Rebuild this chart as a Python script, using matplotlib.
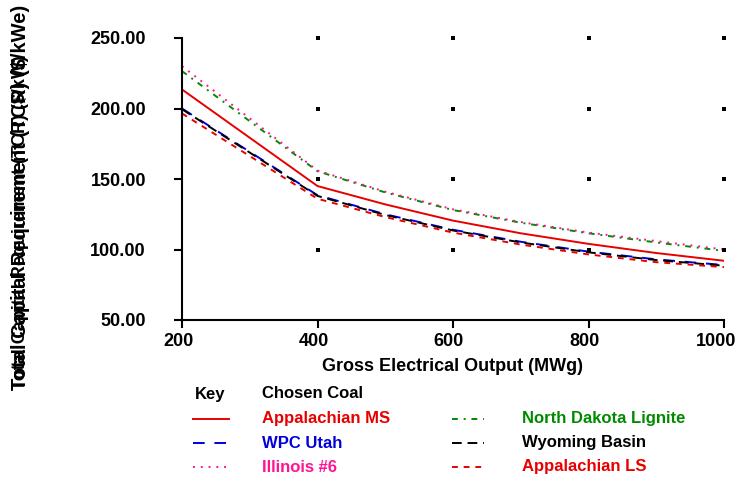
import matplotlib
matplotlib.use("Agg")
import matplotlib.pyplot as plt
from matplotlib.lines import Line2D
import matplotlib.transforms as mtransforms
import numpy as np

plt.rcParams['font.family'] = ['Liberation Sans', 'DejaVu Sans']
plt.rcParams['font.weight'] = 'bold'

mwg = [200, 400, 500, 600, 700, 800, 900, 1000]
app_ms = [213.5, 145, 132, 120.5, 111.5, 104, 97.5, 92]
illinois6 = [230, 156, 141, 128.5, 119.5, 112, 106, 100]
nd_lignite = [226.5, 155.5, 140.5, 128, 119, 111.5, 105, 99]
wpc_utah = [200, 138.5, 125, 114, 105.5, 98.5, 93, 89]
wyoming = [199.5, 138, 124.5, 113.5, 105, 98, 92.5, 88.5]
app_ls = [196.5, 136, 123, 112, 103.5, 96.5, 91, 87.5]

series_names = ["Appalachian MS", "WPC Utah", "Illinois #6",
                "North Dakota Lignite", "Wyoming Basin", "Appalachian LS"]
series_vals = [app_ms, wpc_utah, illinois6, nd_lignite, wyoming, app_ls]
colors = ["#e80000", "#0000dd", "#ff1493", "#008a00", "#000000", "#e80000"]
styles = ["-", (0, (6, 5)), (0, (1, 3)), (0, (3, 3, 1, 3)), (0, (5, 3)), (0, (3, 3))]

xticks = [200, 400, 600, 800, 1000]
yticks = [50, 100, 150, 200, 250]

fig = plt.figure(figsize=(7.39, 4.80), dpi=100)
ax = fig.add_axes([182/739, 1-320/480, 542/739, 282/480])

draw_order = [3, 2, 0, 1, 4, 5]
for i in draw_order:
    ax.plot(mwg, series_vals[i], color=colors[i], linestyle=styles[i], lw=1.4)

# grid dots at intersections
gx, gy = np.meshgrid(xticks[1:], yticks[1:])
ax.scatter(gx.ravel(), gy.ravel(), s=5, color='black', zorder=5, clip_on=False,
           linewidths=0, marker='s')

ax.set_xlim(200, 1000)
ax.set_ylim(50, 250)
ax.set_xticks(xticks)
ax.set_yticks(yticks)
ax.set_yticklabels([f"{v:.2f}" for v in yticks])
for s in ['top', 'right']:
    ax.spines[s].set_visible(False)
for s in ['left', 'bottom']:
    ax.spines[s].set_linewidth(1.5)
ax.tick_params(axis='both', labelsize=13, width=1.5, length=6, direction='out')
ax.tick_params(axis='y', pad=20)
ax.tick_params(axis='x', pad=3)
ax.set_xlabel("Gross Electrical Output (MWg)", fontsize=13, fontweight='bold', labelpad=6)

# shift x tick labels slightly left as in the reference
xlabels = ax.get_xticklabels()
for j, lab in enumerate(xlabels):
    dx = -8 if j == len(xlabels) - 1 else -4
    lab.set_transform(lab.get_transform() +
                      mtransforms.ScaledTranslation(dx/100, 0, fig.dpi_scale_trans))

# overlapping y labels
fig.text(21/739, 1-390/480, "Total Capital Requirement (TCR) ($/kW)", rotation=90,
         fontsize=13, fontweight='bold', ha='center', va='bottom')
fig.text(21/739, 1-390/480, "Total Capital Requirement (TCR) ($/kWe)", rotation=90,
         fontsize=14.5, fontweight='bold', ha='center', va='bottom')

# custom legend
fs = 12
fig.text(195/739, 1-394/480, "Key", fontsize=fs, fontweight='bold', va='center')
fig.text(262/739, 1-394/480, "Chosen Coal", fontsize=fs, fontweight='bold', va='center')
rows = [419, 443, 467]
for k in range(6):
    col = k // 3
    row = rows[k % 3]
    lx0, lx1 = (193, 229) if col == 0 else (452, 484)
    tx = 262 if col == 0 else 522
    y = 1 - row/480
    fig.add_artist(Line2D([lx0/739, lx1/739], [y, y], transform=fig.transFigure,
                          color=colors[k], linestyle=styles[k], lw=1.4))
    fig.text(tx/739, y, series_names[k], fontsize=fs, fontweight='bold',
             color=colors[k], va='center')

fig.savefig("out.png", dpi=100)
